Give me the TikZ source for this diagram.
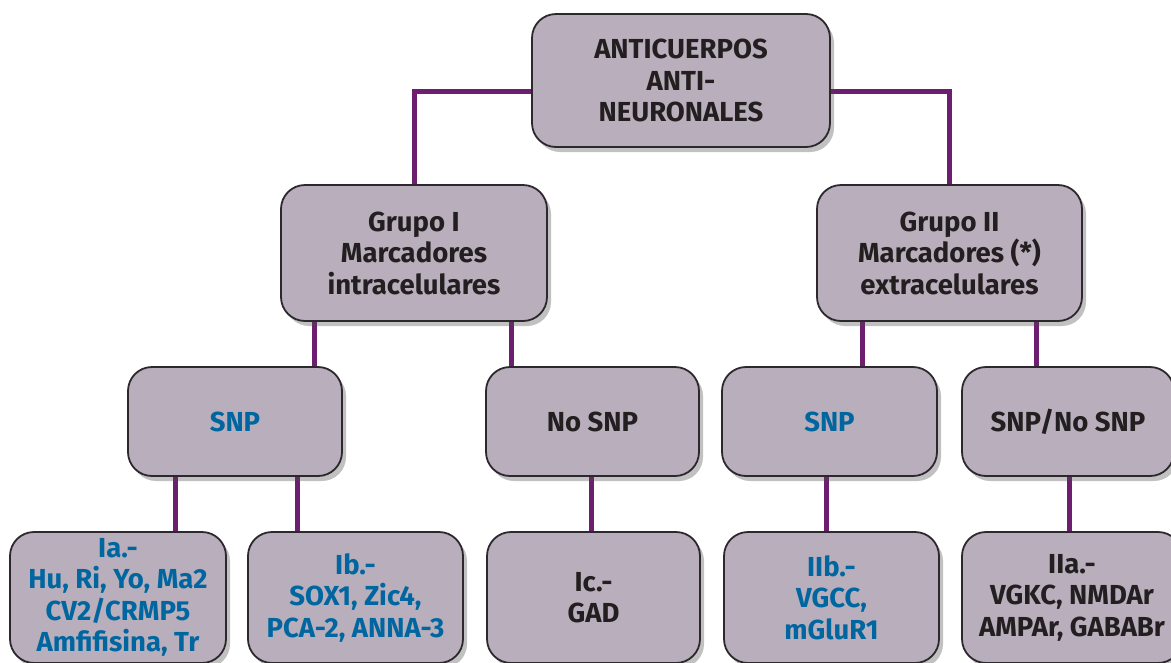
\documentclass[tikz,border=0pt]{standalone}
\usepackage{fontspec}
\setmainfont{Fira Sans}
\usetikzlibrary{shadows,backgrounds}
\definecolor{boxfill}{RGB}{185,174,187}
\definecolor{boxline}{RGB}{45,40,45}
\definecolor{conncol}{RGB}{110,30,110}
\definecolor{bluetxt}{RGB}{0,102,160}
\definecolor{darktxt}{RGB}{35,31,32}
\begin{document}
\begin{tikzpicture}[x=1pt,y=-1pt,
  box/.style={draw=boxline,line width=1.8pt,fill=boxfill,rounded corners=24pt,
    align=center,inner sep=0pt,text=darktxt,
    font=\fontsize{27.5}{31.5}\selectfont\bfseries,
    drop shadow={shadow xshift=4pt,shadow yshift=-5pt,opacity=0.35,fill=black!70}},
  conn/.style={draw=conncol,line width=5pt},
  blue/.style={text=bluetxt}]
\useasboundingbox (0,0) rectangle (1171,662);
\clip (0,0) rectangle (1171,662);
\node[box,minimum width=298pt,minimum height=133pt] (top) at (681,80.5) {ANTICUERPOS\\ANTI-\\NEURONALES};
\node[box,minimum width=266pt,minimum height=136pt] (g1) at (414,253) {Grupo I\\Marcadores\\intracelulares};
\node[box,minimum width=265pt,minimum height=136pt] (g2) at (949.5,253) {Grupo II\\Marcadores (*)\\extracelulares};
\node[box,blue,minimum width=214pt,minimum height=109pt] (s1) at (235,421.5) {SNP};
\node[box,minimum width=213pt,minimum height=109pt] (ns) at (592.5,421.5) {No SNP};
\node[box,blue,minimum width=215pt,minimum height=109pt] (s2) at (829.5,421.5) {SNP};
\node[box,minimum width=212pt,minimum height=109pt] (sn) at (1068,421.5) {SNP/No SNP};
\node[box,blue,minimum width=216pt,minimum height=131pt] (ia) at (118,597.5) {Ia.-\\Hu, Ri, Yo, Ma2\\CV2/CRMP5\\Amfifisina, Tr};
\node[box,blue,minimum width=215pt,minimum height=131pt] (ib) at (355.5,597.5) {Ib.-\\SOX1, Zic4,\\PCA-2, ANNA-3};
\node[box,minimum width=213pt,minimum height=131pt] (ic) at (593.5,597.5) {Ic.-\\GAD};
\node[box,blue,minimum width=215pt,minimum height=131pt] (iib) at (831.5,597.5) {IIb.-\\VGCC,\\mGluR1};
\node[box,minimum width=220pt,minimum height=131pt] (iia) at (1072,597.5) {IIa.-\\VGKC, NMDAr\\AMPAr, GABABr};
\begin{scope}[on background layer]
\draw[conn] ([yshift=-10.5pt]top.west) -| (g1.north);
\draw[conn] ([yshift=-10.5pt]top.east) -| (g2.north);
\draw[conn] ([xshift=-100pt]g1.south) -- ([xshift=-100pt]g1.south |- s1.north);
\draw[conn] ([xshift=97pt]g1.south) -- ([xshift=97pt]g1.south |- ns.north);
\draw[conn] ([xshift=-87.5pt]g2.south) -- ([xshift=-87.5pt]g2.south |- s2.north);
\draw[conn] ([xshift=86.5pt]g2.south) -- ([xshift=86.5pt]g2.south |- sn.north);
\draw[conn] ([xshift=-60pt]s1.south) -- ([xshift=-60pt]s1.south |- ia.north);
\draw[conn] ([xshift=62pt]s1.south) -- ([xshift=62pt]s1.south |- ib.north);
\draw[conn] ([xshift=-1.5pt]ns.south) -- ([xshift=-1.5pt]ns.south |- ic.north);
\draw[conn] ([xshift=-3.5pt]s2.south) -- ([xshift=-3.5pt]s2.south |- iib.north);
\draw[conn] ([xshift=1pt]sn.south) -- ([xshift=1pt]sn.south |- iia.north);
\end{scope}
\end{tikzpicture}
\end{document}
